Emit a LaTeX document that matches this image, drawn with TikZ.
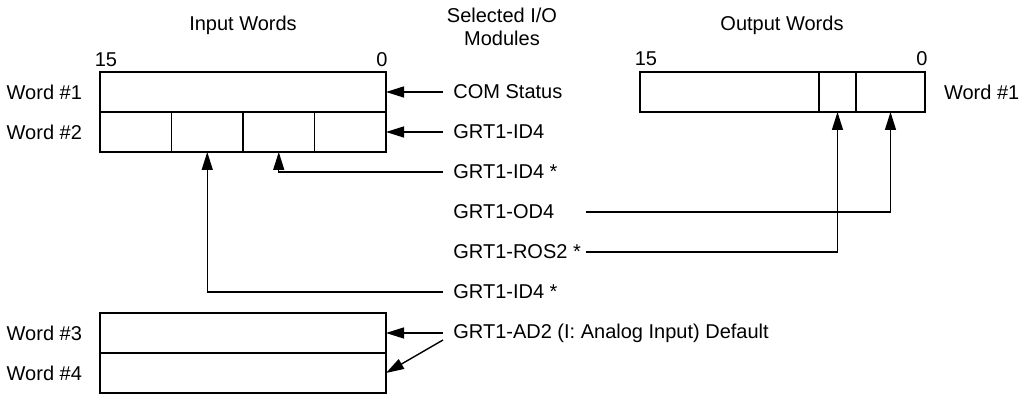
\documentclass[tikz,border=0pt]{standalone}
\usepackage{fontspec}
\setmainfont{Liberation Sans}
\usetikzlibrary{arrows.meta}

\begin{document}
\begin{tikzpicture}[
            x=0.5pt,
            y=-0.5pt,
            font=\fontsize{10}{11.5}\selectfont,
            cell/.style={draw, line width=0.9pt, inner sep=0pt, outer sep=0pt, minimum height=20pt},
            modlabel/.style={anchor=west, inner xsep=5pt, inner ysep=0pt},
            feed/.style={line width=0.7pt, -{Triangle[length=9pt,width=5.5pt]}},
            tap/.style={line width=0.7pt}
        ]
        \useasboundingbox (0,0) rectangle (1025,394);

        % input words
        \node[cell, minimum width=143pt] (in1) at (243,92) {};
        \node[cell, minimum width=35.75pt] (c1) at (135.75,132) {};
        \node[cell, minimum width=35.75pt] (c2) at (207.25,132) {};
        \node[cell, minimum width=35.75pt] (c3) at (278.75,132) {};
        \node[cell, minimum width=35.75pt] (c4) at (350.25,132) {};
        \node[cell, minimum width=143pt] (in3) at (243,333) {};
        \node[cell, minimum width=143pt] (in4) at (243,373) {};

        \node (inhead) at (243,25) {Input Words};
        \node (inmsb) at (106,60) {15};
        \node (inlsb) at (382,60) {0};
        \node[anchor=east] (w1) at (89,92) {Word \#1};
        \node[anchor=east] (w2) at (89,132) {Word \#2};
        \node[anchor=east] (w3) at (89,333) {Word \#3};
        \node[anchor=east] (w4) at (89,373) {Word \#4};

        % output words
        \node[cell, minimum width=89.5pt] (o1) at (729.5,92) {};
        \node[cell, minimum width=18.5pt] (o2) at (837.5,92) {};
        \node[cell, minimum width=34.5pt] (o3) at (890.5,92) {};

        \node (outhead) at (782,25) {Output Words};
        \node (outmsb) at (646,59) {15};
        \node (outlsb) at (922,59) {0};
        \node[anchor=west] (ow1) at (937,92) {Word \#1};

        % selected modules
        \node[align=center] (selhead) at (502,27) {Selected I/O\\Modules};
        \node[modlabel] (com) at (443,92) {COM Status};
        \node[modlabel] (ida) at (443,132) {GRT1-ID4};
        \node[modlabel] (idb) at (443,172) {GRT1-ID4 *};
        \node[modlabel] (od4) at (443,212) {GRT1-OD4};
        \node[modlabel] (ros) at (443,252) {GRT1-ROS2 *};
        \node[modlabel] (idc) at (443,292) {GRT1-ID4 *};
        \node[modlabel] (ad2) at (443,333) {GRT1-AD2 (I: Analog Input) Default};
        \coordinate (tapx) at (586,0);

        \draw[feed] (com.west) -- (com.west -| in1.east);
        \draw[feed] (ida.west) -- (ida.west -| c4.east);
        \draw[feed] (idb.west) -| (c3.south);
        \draw[feed] (idc.west) -| (c2.south);
        \draw[feed] (tapx |- od4) -| (o3.south);
        \draw[feed] (tapx |- ros) -| (o2.south);
        \draw[feed] (ad2.west) -- (ad2.west -| in3.east);
        \draw[feed] ([yshift=-3.5pt]ad2.west) -- (in4.east);
    \end{tikzpicture}
\end{document}
